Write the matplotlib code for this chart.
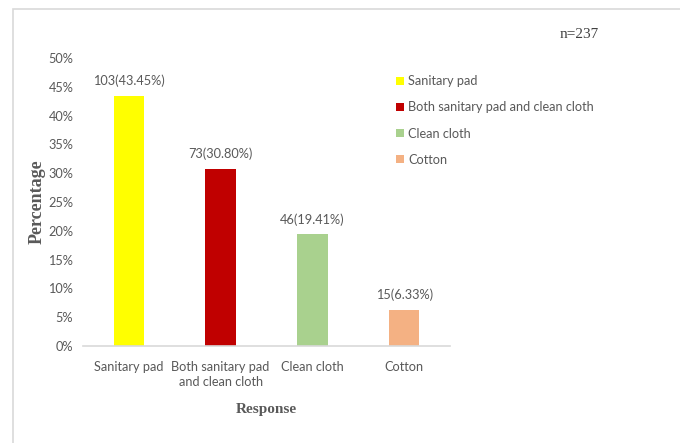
import matplotlib
matplotlib.use('Agg')
import matplotlib.pyplot as plt
from matplotlib.patches import Rectangle
from matplotlib.ticker import PercentFormatter

# response categories, counts and shares (n=237)
categories = ['Sanitary pad', 'Both sanitary pad\nand clean cloth', 'Clean cloth', 'Cotton']
legend_names = ['Sanitary pad', 'Both sanitary pad and clean cloth', 'Clean cloth', 'Cotton']
counts = [103, 73, 46, 15]
percents = [43.45, 30.80, 19.41, 6.33]
colors = ['#FFFF00', '#C00000', '#A9D18E', '#F4B183']
total_n = 237

GREY = '#595959'
sans = ['Lato', 'DejaVu Sans']
serif = ['Liberation Serif', 'DejaVu Serif']
FS = 9.2

fig = plt.figure(figsize=(6.8, 4.43), dpi=100)
ax = fig.add_axes([83/680, 1-346/443, 367/680, 288/443])

x = range(len(categories))
bars = ax.bar(x, [p/100 for p in percents], width=0.33, color=colors)

for b, c, p in zip(bars, counts, percents):
    ax.annotate('{}({:.2f}%)'.format(c, p), (b.get_x()+b.get_width()/2, b.get_height()),
                xytext=(0, 6), textcoords='offset points', ha='center', va='bottom',
                fontsize=FS, color=GREY, family=sans)

ax.set_ylim(0, 0.5)
ax.set_xlim(-0.5, len(categories)-0.5)
ax.set_yticks([i*0.05 for i in range(11)])
ax.yaxis.set_major_formatter(PercentFormatter(1.0, decimals=0))
ax.set_xticks(list(x))
ax.set_xticklabels(categories, family=sans, fontsize=FS, color=GREY, linespacing=1.3)
for lbl in ax.get_yticklabels():
    lbl.set_family(sans)
    lbl.set_fontsize(FS)
    lbl.set_color(GREY)
ax.tick_params(axis='y', length=0, pad=7)
ax.tick_params(axis='x', length=0, pad=11)

for s in ['top', 'right', 'left']:
    ax.spines[s].set_visible(False)
ax.spines['bottom'].set_color('#D9D9D9')
ax.spines['bottom'].set_linewidth(1.2)

ylab = ax.set_ylabel('Percentage', family=serif, fontweight='bold', fontsize=13, color=GREY)
ylab.set_va('center')
ax.yaxis.set_label_coords(-0.125, 0.5)
xlab = ax.set_xlabel('Response', family=serif, fontweight='bold', fontsize=11, color=GREY)
xlab.set_va('center')
ax.xaxis.set_label_coords(0.5, -0.219)

leg = fig.legend(bars, legend_names, loc='upper left', bbox_to_anchor=(390/680, 1-69/443),
                 frameon=False, handlelength=0.6, handleheight=0.6, handletextpad=0.3,
                 labelspacing=1.1, borderpad=0, prop={'family': sans, 'size': FS})
for t in leg.get_texts():
    t.set_color(GREY)

fig.text(560/680, 1-34/443, 'n={}'.format(total_n), family=serif, fontsize=11,
         color='#404040', ha='left', va='center')

# chart area border, cut off at the right and bottom
fig.add_artist(Rectangle((13/680, -0.1), 1.2, 1-9/443+0.1, transform=fig.transFigure,
                         fill=False, edgecolor='#D9D9D9', linewidth=1.2))

fig.savefig('out.png', dpi=100)
